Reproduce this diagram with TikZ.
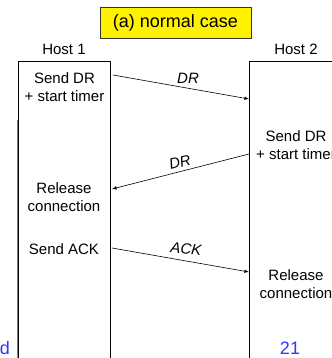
\documentclass[tikz,border=0pt]{standalone}
\usepackage{fontspec}
\setmainfont{Liberation Sans}
\definecolor{slideblue}{RGB}{51,51,255}
\tikzset{
  hosttext/.style={align=center,inner sep=0pt,font=\fontsize{15bp}{18bp}\selectfont},
  msgtext/.style={inner sep=0pt,font=\fontsize{15bp}{18bp}\selectfont\itshape},
  msg/.style={black,->,line width=0.6bp},
  column/.style={black,line width=0.8bp},
}
\begin{document}
\begin{tikzpicture}[>=latex,line join=bevel,]
%%
\clip (0bp,0bp) rectangle (332bp,-358bp);
\node (title) at (175.5bp,-22.5bp) [draw=black!80,fill=yellow,line width=0.8bp,minimum width=151bp,minimum height=31bp,inner sep=0pt,font=\fontsize{18bp}{21bp}\selectfont] {(a) normal case};
  \node (host_1) at (64bp,-49bp) [hosttext] {Host 1};
  \node (host_2) at (296bp,-49bp) [hosttext] {Host 2};
  \draw [column] (18bp,-360bp) -- (18bp,-61bp) -- (110bp,-61bp) -- (110bp,-360bp);
  \draw [gray,line width=1.4bp] (17.5bp,-120bp) -- (17.5bp,-360bp);
  \draw [column] (340bp,-61bp) -- (249bp,-61bp) -- (249bp,-360bp);
  \node (send_dr_1) at (64.5bp,-87bp) [hosttext] {Send DR\\+ start timer};
  \node (release_1) at (64bp,-197.5bp) [hosttext] {Release\\connection};
  \node (send_ack) at (64bp,-249bp) [hosttext] {Send ACK};
  \node (send_dr_2) at (296bp,-145.5bp) [hosttext] {Send DR\\+ start timer};
  \node (release_2) at (296bp,-284bp) [hosttext] {Release\\connection};
  \coordinate (dr_1_a) at (113bp,-75bp);
  \coordinate (dr_1_b) at (249bp,-99bp);
  \coordinate (dr_2_a) at (249bp,-154bp);
  \coordinate (dr_2_b) at (112bp,-189bp);
  \coordinate (ack_a) at (112bp,-248bp);
  \coordinate (ack_b) at (249bp,-272bp);
  \draw [msg] (dr_1_a) -- (dr_1_b);
  \draw [msg] (dr_2_a) -- (dr_2_b);
  \draw [msg] (ack_a) -- (ack_b);
  \node (dr_1) at (188bp,-78bp) [msgtext] {DR};
  \node (dr_2) at (180bp,-162bp) [msgtext,rotate=14] {DR};
  \node (ack) at (186bp,-249bp) [msgtext,rotate=-6] {ACK};
  \node (page_d) at (5bp,-348bp) [slideblue,inner sep=0pt,font=\fontsize{18bp}{21bp}\selectfont] {d};
  \node (page_no) at (290bp,-348bp) [slideblue,inner sep=0pt,font=\fontsize{18bp}{21bp}\selectfont] {21};
%
\end{tikzpicture}
\end{document}
